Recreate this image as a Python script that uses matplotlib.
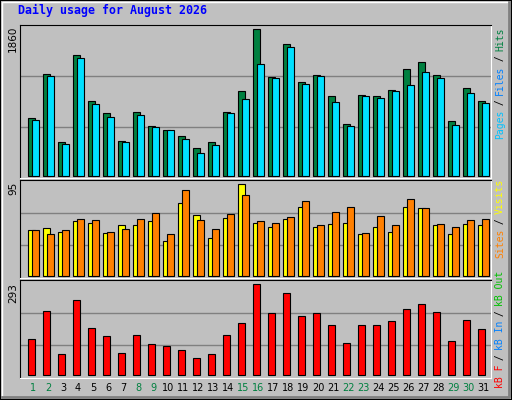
import numpy as np
import matplotlib
matplotlib.use("Agg")
import matplotlib.pyplot as plt
from matplotlib.patches import Rectangle
from matplotlib.lines import Line2D

days = np.arange(1, 32)
weekend = [1, 2, 8, 9, 15, 16, 22, 23, 29, 30]

hits = [731, 1294, 427, 1534, 951, 795, 440, 807, 630, 583, 503, 355, 427, 807, 1078, 1860,
        1251, 1670, 1192, 1277, 1010, 655, 1023, 1010, 1086, 1353, 1441, 1277, 693, 1112, 951]
files = [706, 1264, 402, 1492, 909, 744, 427, 769, 617, 583, 465, 287, 389, 795, 972, 1416,
         1239, 1632, 1162, 1264, 934, 630, 1010, 985, 1074, 1150, 1315, 1239, 643, 1048, 921]
visits = [47.3, 49.4, 45.3, 56.7, 54.6, 44.2, 52.5, 52.5, 56.7, 35.9, 75.3, 62.9, 39.0, 59.8, 95, 54.6,
          50.4, 58.7, 71.2, 50.4, 53.6, 54.6, 43.2, 50.4, 45.3, 71.2, 70.1, 52.5, 43.2, 53.6, 52.5]
sites = [47.3, 43.2, 47.3, 58.7, 57.7, 45.3, 48.4, 58.7, 65.0, 43.2, 88.8, 57.7, 48.4, 63.9, 83.6, 56.7,
         54.6, 60.8, 77.4, 52.5, 66.0, 71.2, 44.2, 61.8, 52.5, 79.5, 70.1, 53.6, 50.4, 57.7, 58.7]
kbytes = [116, 206, 68, 241, 151, 126, 71, 129, 100, 93, 80, 55, 68, 129, 167, 293,
          200, 264, 190, 200, 161, 103, 161, 161, 174, 212, 229, 203, 109, 177, 148]

BG = "#C0C0C0"
W, H = 512, 400

fig = plt.figure(figsize=(5.12, 4.0), dpi=100, facecolor=BG)

def fx(px):
    return px / W

def fy(py):
    return 1 - py / H

# outer bevel
fig.add_artist(Rectangle((0, 0), 1, 1, transform=fig.transFigure, fill=False, ec="black", lw=1.5))
fig.add_artist(Line2D([fx(2), fx(2), fx(509)], [fy(397), fy(2), fy(2)], transform=fig.transFigure, color="white", lw=1))
fig.add_artist(Line2D([fx(2), fx(509), fx(509)], [fy(397), fy(397), fy(2)], transform=fig.transFigure, color="#808080", lw=2))

x_lo = 0.133
x_hi = x_lo + 470.7 / 15


def panel(top, bot, ylo, yhi):
    ax = fig.add_axes([fx(20), fy(bot), fx(490.7) - fx(20), (bot - top) / H])
    ax.set_facecolor(BG)
    ax.set_xlim(x_lo, x_hi)
    ax.set_ylim(ylo, yhi)
    ax.set_xticks([])
    ax.set_yticks([])
    ax.spines["top"].set_color("black")
    ax.spines["left"].set_color("black")
    ax.spines["bottom"].set_color("white")
    ax.spines["right"].set_color("white")
    for f in (1 / 3, 2 / 3):
        ax.plot([0, 1], [f, f], transform=ax.transAxes, color="#808080", lw=1, zorder=0)
    return ax

bw = 7 / 15
off = 2 / 15

ax1 = panel(24.7, 178, -25, 1918)
ax1.bar(days - off, hits, width=bw, color="#008040", ec="black", lw=0.8)
ax1.bar(days + off + 0.02, files, width=bw, color="#00E0FF", ec="black", lw=0.8)

ax2 = panel(180, 278, -2.1, 99.5)
ax2.bar(days - off, visits, width=bw, color="#FFFF00", ec="black", lw=0.8)
ax2.bar(days + off + 0.02, sites, width=bw, color="#FF8000", ec="black", lw=0.8)

ax3 = panel(280, 378, -8.7, 306.9)
ax3.bar(days - off, kbytes, width=bw, color="#FF0000", ec="black", lw=0.8)

# title
fig.text(fx(18), fy(10), "Daily usage for August 2026", color="#0000FF", fontsize=8.4,
         family="DejaVu Sans Mono", fontweight="bold", ha="left", va="center")

# left max labels
for txt, top in (("1860", 26), ("95", 182), ("293", 283)):
    fig.text(fx(13), fy(top), txt, rotation=90, fontsize=7.5, ha="center", va="top", color="black")

# right legends (bottom-to-top reading)
ADV = 5.5

def vlabel(top, segs):
    n = sum(len(s) for s, _ in segs)
    y = top + n * ADV
    for s, c in segs:
        h = len(s) * ADV
        fig.text(fx(500), fy(y - h / 2), s, rotation=90, color=c, fontsize=7,
                 family="DejaVu Sans Mono", ha="center", va="center")
        y -= h

vlabel(28, [("Pages", "#00C0FF"), (" / ", "black"), ("Files", "#0080FF"),
            (" / ", "black"), ("Hits", "#008040")])
vlabel(180, [("Sites", "#FF8000"), (" / ", "black"), ("Visits", "#FFFF00")])
vlabel(272, [("kB F", "#FF0000"), (" / ", "black"), ("kB In", "#0080FF"),
             (" / ", "black"), ("kB Out", "#00C000")])

# day labels
for d in days:
    xpx = 20 + (d - x_lo) * 15
    fig.text(fx(xpx), fy(388), str(d), fontsize=7, ha="center", va="center",
             color="#008040" if d in weekend else "black")

fig.savefig("out.png", dpi=100, facecolor=BG)
